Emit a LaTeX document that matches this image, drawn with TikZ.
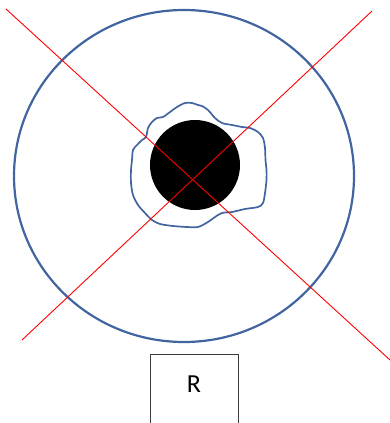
\documentclass[tikz,border=0pt]{standalone}
\usepackage{fontspec}
\setmainfont{Carlito}
\usepackage{tikz}
\definecolor{ringblue}{RGB}{66,100,160}
\definecolor{crossred}{RGB}{255,0,0}
\definecolor{boxgray}{RGB}{60,60,60}

\begin{document}
\begin{tikzpicture}[x=1pt,y=-1pt]
  \useasboundingbox (0,0) rectangle (390,423);

  %% Outer ring
  \draw[ringblue, line width=2.2pt] (184,176) ellipse (170 and 166);

  %% Core and irregular boundary
  \fill[black] (195,165) circle (45);
  \draw[ringblue, line width=1.7pt] plot[smooth cycle, tension=0.5] coordinates {
    (185,103) (192,103) (198,105) (202,106) (208,110) (215,118) (222,123)
    (232,125) (242,127) (250,128) (258,132) (263,138) (265,148) (265.5,160)
    (266.5,170) (266.5,180) (265,193) (263,203) (258,207) (245,209) (232,212)
    (222,213) (215,217) (208,222) (198,227) (187,227) (173,226) (160,224)
    (152,220) (145,213) (138,205) (133,195) (131,183) (131,170) (132,160)
    (133,150) (137,145) (142,140) (146,137) (148,128) (152,122) (157,118)
    (163,117) (170,112) (177,107)};

  %% Cross
  \coordinate (tl) at (6,9);
  \coordinate (br) at (390,360);
  \coordinate (tr) at (372,11);
  \coordinate (bl) at (22,340);
  \draw[crossred, line width=0.9pt] (tl) -- (br);
  \draw[crossred, line width=0.9pt] (tr) -- (bl);

  %% Box below
  \draw[boxgray, line width=0.8pt] (150,354) rectangle (238,430);
  \node[font=\fontsize{26}{30}\selectfont] (rlabel) at (194,384) {R};
\end{tikzpicture}
\end{document}
